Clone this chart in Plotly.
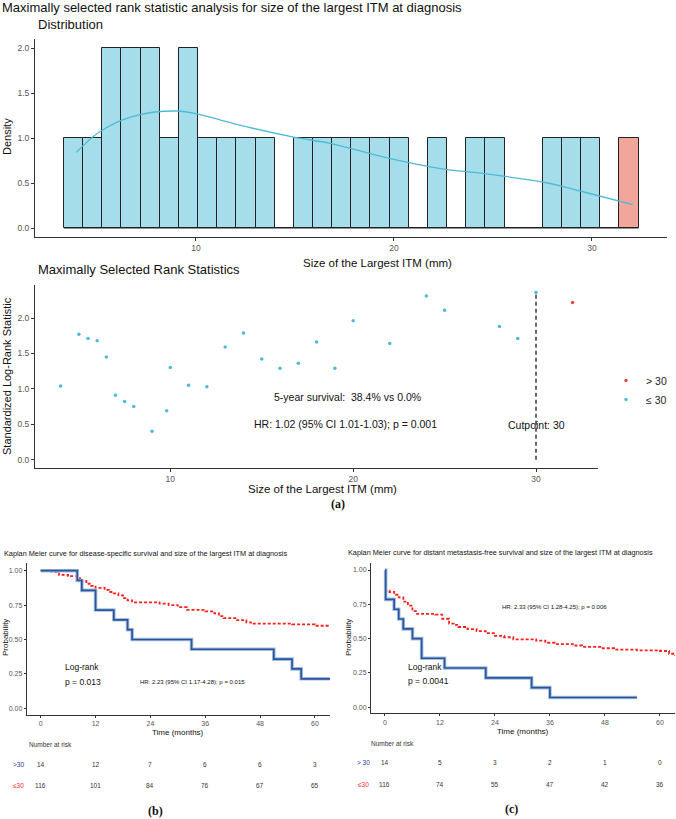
import plotly.graph_objects as go
import numpy as np

W, H = 676, 819
def X(px): return px / W
def Y(py): return 1 - py / H

# ---------------- data ----------------
# histogram (distribution of cut points)
hist_counts = [1, 1, 2, 2, 2, 1, 2, 1, 1, 1, 1, 0, 1, 1, 1, 1, 1, 1, 0, 1, 0, 1, 1, 0, 0, 1, 1, 1, 0, 1]
hist_first_center = 3.82
hist_last_center = 31.87
hist_high_group = [False] * 29 + [True]
dens_x = [3.96, 5.14, 6.83, 9.02, 10.2, 11.9, 14.93, 16.78, 19.82, 22.35, 24.38, 25.73, 27.76, 29.6, 32.06]
dens_y = [0.84, 1.07, 1.24, 1.30, 1.26, 1.16, 1.01, 0.94, 0.77, 0.66, 0.61, 0.57, 0.50, 0.40, 0.26]

# maximally selected rank statistics
cut_lo_x = [4, 5, 5.5, 6, 6.5, 7, 7.5, 8, 9, 9.8, 10, 11, 12, 13, 14, 15, 16, 17, 18, 19, 20, 22, 24, 25, 28, 29, 30]
cut_lo_y = [1.04, 1.77, 1.71, 1.68, 1.45, 0.91, 0.82, 0.75, 0.40, 0.69, 1.30, 1.05, 1.03, 1.59, 1.79, 1.42, 1.29,
            1.36, 1.66, 1.29, 1.96, 1.64, 2.31, 2.11, 1.88, 1.71, 2.36]
cut_hi_x = [32]
cut_hi_y = [2.22]
cutpoint = 30

# KM (b) disease-specific survival
kmb_hi_t = [0, 8, 9, 12, 16, 19, 20, 33, 51, 55, 57, 63.3]
kmb_hi_s = [1.0, 0.929, 0.857, 0.714, 0.643, 0.571, 0.5, 0.429, 0.357, 0.286, 0.214, 0.214]
kmb_lo_t = [0, 2.5, 4, 6, 8, 9, 10, 11, 12, 14, 15, 16, 17, 18, 19, 20, 26, 28, 30, 32, 36, 38, 39, 40, 43, 45, 46,
            55, 60, 63.3]
kmb_lo_s = [1.0, 0.99, 0.97, 0.96, 0.945, 0.925, 0.905, 0.89, 0.875, 0.86, 0.845, 0.835, 0.82, 0.80, 0.785, 0.77,
            0.76, 0.75, 0.735, 0.715, 0.705, 0.69, 0.67, 0.655, 0.64, 0.625, 0.615, 0.61, 0.60, 0.60]
# KM (c) distant metastasis-free survival
kmc_hi_t = [0, 0.15, 2, 3, 4, 6, 8, 13, 22, 32, 36, 55]
kmc_hi_s = [1.0, 0.786, 0.714, 0.643, 0.571, 0.5, 0.357, 0.286, 0.214, 0.143, 0.071, 0.071]
kmc_lo_t = [0, 0.15, 1, 2, 3, 4, 5, 6, 7, 11, 12.5, 14, 15, 16, 18, 20, 22, 24, 26, 28, 33, 35, 37, 41, 43, 47, 50,
            55, 60, 62, 63.3]
kmc_lo_s = [1.0, 0.85, 0.84, 0.82, 0.80, 0.77, 0.74, 0.70, 0.68, 0.675, 0.645, 0.61, 0.60, 0.585, 0.57, 0.555, 0.54,
            0.52, 0.51, 0.495, 0.485, 0.47, 0.46, 0.45, 0.44, 0.43, 0.42, 0.415, 0.41, 0.39, 0.375]

risk_times = [0, 12, 24, 36, 48, 60]
risk_b_hi = [14, 12, 7, 6, 6, 3]
risk_b_lo = [116, 101, 84, 76, 67, 65]
risk_c_hi = [14, 5, 3, 2, 1, 0]
risk_c_lo = [116, 74, 55, 47, 42, 36]

BLUE = "#4DBBD5"
RED = "#E64B35"
KM_BLUE = "#2A569C"
KM_HALO = "#A4BEDD"
KM_RED = "#FF1F1F"
FONT = "Liberation Sans, Arial, sans-serif"
SERIF = "Liberation Serif, Times New Roman, serif"

fig = go.Figure()

# ---------- histogram ----------
centers = np.linspace(hist_first_center, hist_last_center, len(hist_counts))
bw = centers[1] - centers[0]
cols = ["#F2A59A" if h else "#A6DDEA" for h in hist_high_group]
# baseline of the (possibly empty) bins
fig.add_trace(go.Scatter(x=[centers[0] - bw / 2, centers[-1] + bw / 2], y=[0, 0], mode="lines",
                         line=dict(color="#222", width=1), xaxis="x", yaxis="y", showlegend=False))
fig.add_trace(go.Bar(x=centers, y=hist_counts, width=bw, marker=dict(color=cols, line=dict(color="#222", width=1)),
                     xaxis="x", yaxis="y", showlegend=False))
fig.add_trace(go.Scatter(x=dens_x, y=dens_y, mode="lines", line=dict(color=BLUE, width=1.3, shape="spline"),
                         xaxis="x", yaxis="y", showlegend=False))

# ---------- scatter ----------
fig.add_trace(go.Scatter(x=[cutpoint, cutpoint], y=[0, max(cut_lo_y)], mode="lines",
                         line=dict(color="#444", width=1.6, dash="4px,3px"), xaxis="x2", yaxis="y2", showlegend=False))
fig.add_trace(go.Scatter(x=cut_hi_x, y=cut_hi_y, mode="markers", marker=dict(color=RED, size=3.5), name="> 30",
                         xaxis="x2", yaxis="y2"))
fig.add_trace(go.Scatter(x=cut_lo_x, y=cut_lo_y, mode="markers", marker=dict(color=BLUE, size=3.5), name="≤ 30",
                         xaxis="x2", yaxis="y2"))

# ---------- KM curves ----------
def km(t, s, ax, ay, color, dash=None, halo=False):
    if halo:
        fig.add_trace(go.Scatter(x=t, y=s, mode="lines", line=dict(color=KM_HALO, width=3.6, shape="hv"),
                                 xaxis=ax, yaxis=ay, showlegend=False))
    fig.add_trace(go.Scatter(x=t, y=s, mode="lines", line=dict(color=color, width=1.7 if halo else 1.8, shape="hv",
                                                               dash=dash),
                             xaxis=ax, yaxis=ay, showlegend=False))

km(kmb_lo_t, kmb_lo_s, "x3", "y3", KM_RED, dash="3px,2px")
km(kmb_hi_t, kmb_hi_s, "x3", "y3", KM_BLUE, halo=True)
km(kmc_lo_t, kmc_lo_s, "x4", "y4", KM_RED, dash="3px,2px")
km(kmc_hi_t, kmc_hi_s, "x4", "y4", KM_BLUE, halo=True)

axcommon = dict(showline=True, linecolor="#333", linewidth=1, ticks="outside", ticklen=3, tickcolor="#333",
                showgrid=False, zeroline=False, tickfont=dict(family=FONT, size=8.5, color="#555"))
kmcommon = dict(axcommon, tickfont=dict(family=FONT, size=7, color="#555"), ticklen=2)

fig.update_layout(
    width=W, height=H, margin=dict(l=0, r=0, t=0, b=0), paper_bgcolor="white", plot_bgcolor="white",
    font=dict(family=FONT),
    bargap=0,
    xaxis=dict(axcommon, domain=[X(35), X(667)], range=[1.87, 33.79], tickvals=[10, 20, 30], anchor="y"),
    yaxis=dict(axcommon, domain=[Y(237), Y(39)], range=[-0.1, 2.1], tickvals=[0, 0.5, 1, 1.5, 2],
               tickformat=".1f", anchor="x"),
    xaxis2=dict(axcommon, domain=[X(35), X(598)], range=[2.6, 33.39], tickvals=[10, 20, 30], anchor="y2"),
    yaxis2=dict(axcommon, domain=[Y(468), Y(285)], range=[-0.117, 2.466], tickvals=[0, 0.5, 1, 1.5, 2],
                tickformat=".1f", anchor="x2"),
    xaxis3=dict(kmcommon, domain=[X(26.7), X(330)], range=[-3.06, 63.3], tickvals=risk_times, anchor="y3"),
    yaxis3=dict(kmcommon, domain=[Y(715), Y(563)], range=[-0.049, 1.056], tickvals=[0, 0.25, 0.5, 0.75, 1],
                tickformat=".2f", anchor="x3"),
    xaxis4=dict(kmcommon, domain=[X(371), X(675)], range=[-3.05, 63.3], tickvals=risk_times, anchor="y4"),
    yaxis4=dict(kmcommon, domain=[Y(713.3), Y(563.3)], range=[-0.044, 1.049], tickvals=[0, 0.25, 0.5, 0.75, 1],
                tickformat=".2f", anchor="x4"),
    legend=dict(x=X(606), y=Y(366), xanchor="left", yanchor="top", font=dict(family=FONT, size=10.5, color="#222"),
                bgcolor="rgba(0,0,0,0)", itemwidth=30, tracegroupgap=0),
)

ann = []
def txt(text, x, y, size, xanchor="left", color="#111", family=FONT, xref="paper", textangle=0, yanchor="middle"):
    ann.append(dict(text=text, x=x, y=y, xref=xref, yref="paper", showarrow=False, xanchor=xanchor,
                    yanchor=yanchor, textangle=textangle, font=dict(size=size, color=color, family=family)))

txt("Maximally selected rank statistic analysis for size of the largest ITM at diagnosis", X(0), Y(8), 13)
txt("Distribution", X(36), Y(24), 13)
txt("Density", X(7), Y(137), 11, xanchor="center", textangle=-90)
txt("Size of the Largest ITM (mm)", X(377), Y(263), 11.5, xanchor="center")
txt("Maximally Selected Rank Statistics", X(36), Y(270), 13)
txt("Standardized Log-Rank Statistic", X(7), Y(376), 11, xanchor="center", textangle=-90)
txt("Size of the Largest ITM (mm)", X(322), Y(489), 11.5, xanchor="center")
txt("5-year survival:  38.4% vs 0.0%", X(347), Y(397), 10.5, xanchor="center")
txt("HR: 1.02 (95% CI 1.01-1.03); p = 0.001", X(346), Y(424), 10.5, xanchor="center")
ann.append(dict(text="Cutpoint: 30", x=cutpoint, xref="x2", y=Y(425), yref="paper", showarrow=False,
                xanchor="center", yanchor="middle", font=dict(size=10.5, color="#111", family=FONT)))
txt("<b>(a)</b>", X(338), Y(504), 12, xanchor="center", family=SERIF)

# KM (b)
txt("Kaplan Meier curve for disease-specific survival and size of the largest ITM at diagnosis", X(2), Y(553), 7.3)
txt("Probability", X(5), Y(638), 8, xanchor="center", textangle=-90)
txt("Time (months)", X(178), Y(732), 8, xanchor="center")
txt("Log-rank", X(63), Y(667), 8.5)
txt("p = 0.013", X(63), Y(682), 8.5)
txt("HR: 2.23 (95% CI 1.17-4.28); p = 0.015", X(138), Y(682), 6)
txt("Number at risk", X(27), Y(744), 6.5, color="#333")
txt(">30", X(18.5), Y(764), 6.5, xanchor="center", color="#2C3A8F")
txt("≤30", X(18.5), Y(785), 6.5, xanchor="center", color="#FF2A2A")
# KM (c)
txt("Kaplan Meier curve for distant metastasis-free survival and size of the largest ITM at diagnosis", X(345.5),
    Y(552), 7.3)
txt("Probability", X(348), Y(638), 8, xanchor="center", textangle=-90)
txt("Time (months)", X(523), Y(731), 8, xanchor="center")
txt("Log-rank", X(405.5), Y(667), 8.5)
txt("p = 0.0041", X(405.5), Y(681), 8.5)
txt("HR: 2.33 (95% CI 1.28-4.25); p = 0.006", X(500), Y(607), 6)
txt("Number at risk", X(369), Y(743), 6.5, color="#333")
txt("> 30", X(363), Y(762), 6.5, xanchor="center", color="#2C3A8F")
txt("≤30", X(363), Y(784), 6.5, xanchor="center", color="#FF2A2A")

for ax, rows in (("x3", [(risk_b_hi, 764), (risk_b_lo, 785)]), ("x4", [(risk_c_hi, 762), (risk_c_lo, 784)])):
    for vals, py in rows:
        for t, v in zip(risk_times, vals):
            ann.append(dict(text=str(v), x=t, xref=ax, y=Y(py), yref="paper", showarrow=False, xanchor="center",
                            yanchor="middle", font=dict(size=6.5, color="#333", family=FONT)))

txt("<b>(b)</b>", X(155), Y(811), 12, xanchor="center", family=SERIF)
txt("<b>(c)</b>", X(511), Y(809), 12, xanchor="center", family=SERIF)

fig.update_layout(annotations=ann)
fig.write_html("out.html")
